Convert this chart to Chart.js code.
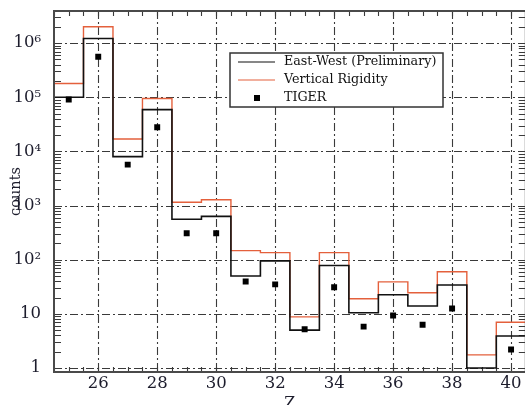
<!DOCTYPE html>
<html>
<head>
<meta charset="utf-8">
<script src="https://cdn.jsdelivr.net/npm/chart.js@4"></script>
<style>
    html, body { margin: 0; padding: 0; background: #fff; overflow: hidden; }
    #wrap { width: 530px; height: 405px; }
</style>
</head>
<body>
<div id="wrap"><canvas id="countsChart" width="530" height="405"></canvas></div>
<script>
// charge Z of each bin
const charges = [25, 26, 27, 28, 29, 30, 31, 32, 33, 34, 35, 36, 37, 38, 39, 40];
const eastWest = [1.0e5, 1.22e6, 8.0e3, 5.9e4, 560, 630, 50, 95, 5.0, 78, 10.5, 22.5, 14, 34, 1.0, 3.9];
const verticalRigidity = [1.8e5, 2.0e6, 1.7e4, 9.5e4, 1150, 1280, 147, 135, 8.8, 135, 19, 39, 24.5, 60, 1.75, 7.0];
const tigerZ = [25, 26, 27, 28, 29, 30, 31, 32, 33, 34, 35, 36, 37, 38, 40];
const tiger = [9.1e4, 5.6e5, 5.7e3, 2.8e4, 307, 307, 39.6, 35, 5.2, 31, 5.8, 9.3, 6.3, 12.5, 2.2];
const xTicks = [26, 28, 30, 32, 34, 36, 38, 40];
const yTicks = [1, 10, 100, 1e3, 1e4, 1e5, 1e6];

const sup = { 2: "\u00b2", 3: "\u00b3", 4: "\u2074", 5: "\u2075", 6: "\u2076" };
const serif = "'DejaVu Serif', 'Liberation Serif', serif";
const gridInk = "#3a3a3a";
const textInk = "#1c1c2c";

// histogram outline: one point on each bin's left edge, plus the last right edge
function steps(values) {
    const pts = charges.map((z, i) => ({ x: z - 0.5, y: values[i] }));
    pts.push({ x: charges[charges.length - 1] + 0.5, y: values[values.length - 1] });
    return pts;
}

const frame = {
    id: "frame",
    beforeDatasetsDraw(chart) {
        const { ctx, chartArea: a, scales: { x, y } } = chart;
        ctx.save();
        ctx.strokeStyle = gridInk;
        ctx.lineWidth = 1.1;
        ctx.setLineDash([8, 3, 2, 3]);
        ctx.beginPath();
        xTicks.forEach(v => {
            const px = Math.round(x.getPixelForValue(v)) + 0.5;
            ctx.moveTo(px, a.top); ctx.lineTo(px, a.bottom);
        });
        yTicks.forEach(v => {
            const py = Math.round(y.getPixelForValue(v)) + 0.5;
            ctx.moveTo(a.left, py); ctx.lineTo(a.right, py);
        });
        ctx.stroke();
        ctx.setLineDash([]);

        // minor ticks inside the frame
        ctx.beginPath();
        for (let z = 24.5; z <= 40.5; z += 0.5) {
            const px = Math.round(x.getPixelForValue(z)) + 0.5;
            ctx.moveTo(px, a.top); ctx.lineTo(px, a.top + 5);
            ctx.moveTo(px, a.bottom); ctx.lineTo(px, a.bottom - 5);
        }
        yTicks.forEach(d => {
            for (let m = 2; m <= 9; m++) {
                const v = d * m;
                if (v > y.max) return;
                const py = Math.round(y.getPixelForValue(v)) + 0.5;
                ctx.moveTo(a.left, py); ctx.lineTo(a.left + 7, py);
                ctx.moveTo(a.right, py); ctx.lineTo(a.right - 7, py);
            }
        });
        ctx.stroke();
        ctx.restore();
    },
    afterDatasetsDraw(chart) {
        const { ctx, chartArea: a } = chart;
        ctx.save();
        ctx.strokeStyle = "#4a4a4a";
        ctx.lineWidth = 2;
        ctx.strokeRect(a.left, a.top, a.right - a.left, a.bottom - a.top);

        // legend box
        const bx = 230, by = 53, bw = 213, bh = 54;
        ctx.fillStyle = "#fff";
        ctx.fillRect(bx, by, bw, bh);
        ctx.strokeStyle = "#333";
        ctx.lineWidth = 1.5;
        ctx.strokeRect(bx, by, bw, bh);
        const rows = chart.data.datasets.map(ds => ds.label);
        const rowY = [62, 80, 98];
        ctx.font = "12.7px " + serif;
        ctx.textBaseline = "middle";
        rows.forEach((label, i) => {
            const ds = chart.data.datasets[i];
            if (ds.showLine === false) {
                ctx.fillStyle = "#000";
                ctx.fillRect(254, rowY[i] - 3, 6, 6);
            } else {
                ctx.strokeStyle = ds.borderColor;
                ctx.lineWidth = 1.2;
                ctx.beginPath();
                ctx.moveTo(238, rowY[i]); ctx.lineTo(275, rowY[i]);
                ctx.stroke();
            }
            ctx.fillStyle = "#111";
            ctx.fillText(label, 284, rowY[i]);
        });
        ctx.restore();
    }
};

function noEdgePadding(s) {
    s.paddingTop = 0;
    s.paddingBottom = 0;
    s.paddingLeft = 0;
    s.paddingRight = 0;
}

new Chart(document.getElementById("countsChart"), {
    type: "line",
    data: {
        datasets: [
            {
                label: "East-West (Preliminary)",
                data: steps(eastWest),
                borderColor: "#111",
                borderWidth: 1.6,
                stepped: "before",
                pointRadius: 0,
                order: 1
            },
            {
                label: "Vertical Rigidity",
                data: steps(verticalRigidity),
                borderColor: "#e4603c",
                borderWidth: 1.4,
                stepped: "before",
                pointRadius: 0,
                order: 2
            },
            {
                label: "TIGER",
                data: tigerZ.map((z, i) => ({ x: z, y: tiger[i] })),
                showLine: false,
                pointStyle: "rect",
                pointRadius: 4.2,
                backgroundColor: "#000",
                borderColor: "#000",
                borderWidth: 0,
                order: 0
            }
        ]
    },
    options: {
        responsive: false,
        animation: false,
        layout: { padding: { top: 11, right: 4, bottom: 0, left: 0 } },
        plugins: {
            legend: { display: false },
            tooltip: { enabled: false }
        },
        scales: {
            x: {
                type: "linear",
                min: 24.5,
                max: 40.5,
                afterBuildTicks: s => { s.ticks = xTicks.map(v => ({ value: v })); },
                afterFit: s => { s.height = 33; noEdgePadding(s); },
                grid: { display: false },
                border: { display: false },
                ticks: {
                    color: textInk,
                    font: { family: serif, size: 16.5 },
                    padding: -6,
                    maxRotation: 0
                },
                title: {
                    display: true,
                    text: "Z",
                    color: textInk,
                    font: { family: serif, size: 16 },
                    padding: { top: 0, bottom: -8 }
                }
            },
            y: {
                type: "logarithmic",
                min: 0.843,
                max: 3.92e6,
                afterBuildTicks: s => { s.ticks = yTicks.map(v => ({ value: v })); },
                afterFit: s => { s.width = 54; noEdgePadding(s); },
                grid: { display: false },
                border: { display: false },
                ticks: {
                    color: textInk,
                    font: { family: serif, size: 16.5 },
                    padding: 5,
                    callback: v => {
                        const e = Math.round(Math.log10(v));
                        return e === 0 ? "1" : e === 1 ? "10" : "10" + sup[e];
                    }
                },
                title: {
                    display: true,
                    text: "counts",
                    color: textInk,
                    font: { family: serif, size: 14.5 },
                    padding: { top: 8, bottom: 0 }
                }
            }
        }
    },
    plugins: [frame]
});
</script>
</body>
</html>
